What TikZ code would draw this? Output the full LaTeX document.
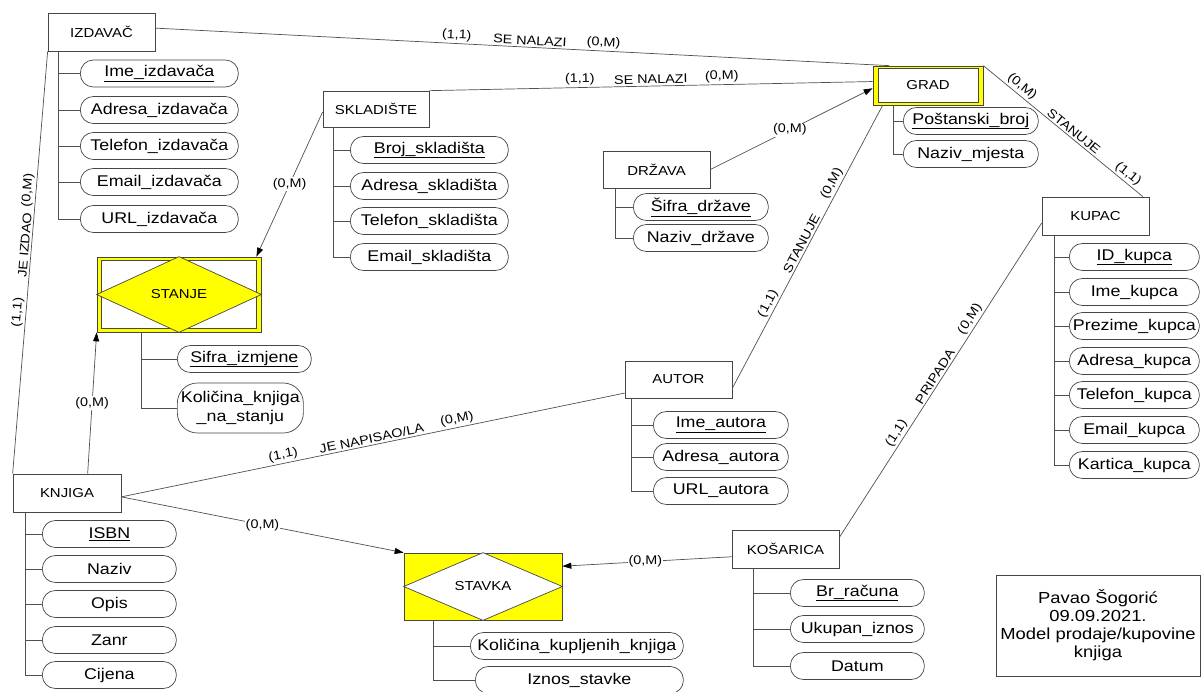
\documentclass[tikz,border=0pt]{standalone}
\usepackage{fontspec}
\setmainfont{Liberation Sans}[FakeStretch=1.15]
\usetikzlibrary{calc,arrows.meta}
\definecolor{ery}{RGB}{255,255,0}
\definecolor{edge}{RGB}{70,70,70}
\definecolor{lin}{RGB}{80,80,80}
\begin{document}
\begin{tikzpicture}[x=1pt,y=-1pt,
  ent/.style={draw=edge,line width=0.7pt,fill=white,inner sep=0pt,font=\fontsize{13}{15}\selectfont},
  attr/.style={draw=edge,line width=0.7pt,fill=white,rounded corners=13pt,minimum height=27pt,inner sep=0pt,anchor=west,font=\fontsize{15.5}{18}\selectfont},
  tree/.style={draw=lin,line width=0.7pt},
  rel/.style={draw=lin,line width=0.7pt},
  arr/.style={rel,-{Triangle[length=9pt,width=6pt,color=black]}},
  card/.style={font=\fontsize{12.5}{14}\selectfont,inner sep=2pt},
  lab/.style={card,sloped,above},
  wcard/.style={card,fill=white,inner sep=1pt},
]
\useasboundingbox (0,0) rectangle (1201,691);
\fill[white] (0,0) rectangle (1201,691);

% IZDAVAC
\node[ent,minimum width=107pt,minimum height=38pt] (izd) at (101.5,32) {IZDAVAČ};
\coordinate (izdT) at (58,51);
\node[attr,minimum width=158pt] (izd1) at (80,73.5) {\underline{Ime\_izdavača}};
\node[attr,minimum width=158pt] (izd2) at (80,110) {Adresa\_izdavača};
\node[attr,minimum width=158pt] (izd3) at (80,146) {Telefon\_izdavača};
\node[attr,minimum width=158pt] (izd4) at (80,182) {Email\_izdavača};
\node[attr,minimum width=158pt] (izd5) at (80,219) {URL\_izdavača};
\draw[tree] (izdT) |- (izd5.west);
\foreach \i in {1,...,4} \draw[tree] (izd\i.west) -- (izd\i.west -| izdT);

% SKLADISTE
\node[ent,minimum width=106pt,minimum height=36pt] (skl) at (376,109) {SKLADIŠTE};
\coordinate (sklT) at (333,127);
\node[attr,minimum width=158pt] (skl1) at (350,150) {\underline{Broj\_skladišta}};
\node[attr,minimum width=158pt] (skl2) at (350,186) {Adresa\_skladišta};
\node[attr,minimum width=158pt] (skl3) at (350,221) {Telefon\_skladišta};
\node[attr,minimum width=158pt] (skl4) at (350,257) {Email\_skladišta};
\draw[tree] (sklT) |- (skl4.west);
\foreach \i in {1,...,3} \draw[tree] (skl\i.west) -- (skl\i.west -| sklT);

% DRZAVA
\node[ent,minimum width=107pt,minimum height=37pt] (drz) at (656.5,169.5) {DRŽAVA};
\coordinate (drzT) at (615,188);
\node[attr,minimum width=135pt] (drz1) at (633,207) {\underline{Šifra\_države}};
\node[attr,minimum width=135pt] (drz2) at (633,238) {Naziv\_države};
\draw[tree] (drzT) |- (drz2.west);
\draw[tree] (drz1.west) -- (drz1.west -| drzT);

% GRAD
\node[ent,fill=ery,minimum width=110pt,minimum height=39pt] (grad) at (928,85.5) {};
\node[ent,minimum width=100pt,minimum height=34pt] (gradin) at (928,85.5) {GRAD};
\coordinate (gradT) at (893,105);
\node[attr,minimum width=135pt] (grad1) at (903,121) {\underline{Poštanski\_broj}};
\node[attr,minimum width=135pt] (grad2) at (903,154) {Naziv\_mjesta};
\draw[tree] (gradT) |- (grad2.west);
\draw[tree] (grad1.west) -- (grad1.west -| gradT);

% KUPAC
\node[ent,minimum width=107pt,minimum height=38pt] (kup) at (1095.5,216) {KUPAC};
\coordinate (kupT) at (1054,235);
\node[attr,minimum width=130pt] (kup1) at (1069,257) {\underline{ID\_kupca}};
\node[attr,minimum width=130pt] (kup2) at (1069,292) {Ime\_kupca};
\node[attr,minimum width=130pt] (kup3) at (1069,326) {Prezime\_kupca};
\node[attr,minimum width=130pt] (kup4) at (1069,361) {Adresa\_kupca};
\node[attr,minimum width=130pt] (kup5) at (1069,395) {Telefon\_kupca};
\node[attr,minimum width=130pt] (kup6) at (1069,430) {Email\_kupca};
\node[attr,minimum width=130pt] (kup7) at (1069,465) {Kartica\_kupca};
\draw[tree] (kupT) |- (kup7.west);
\foreach \i in {1,...,6} \draw[tree] (kup\i.west) -- (kup\i.west -| kupT);

% STANJE
\node[ent,fill=ery,minimum width=164pt,minimum height=75pt] (stanje) at (179,294.5) {};
\draw[draw=edge,line width=0.7pt,fill=white] ($(stanje.south west)+(5,-4)$) rectangle ($(stanje.north east)+(-5,4)$);
\draw[draw=edge,line width=0.7pt,fill=ery] (stanje.west) -- (stanje.north) -- (stanje.east) -- (stanje.south) -- cycle;
\node[font=\fontsize{13}{15}\selectfont] (stanjeL) at (stanje.center) {STANJE};
\coordinate (stanjeT) at (141,332);
\node[attr,minimum width=134pt] (st1) at (177,359) {\underline{Sifra\_izmjene}};
\node[attr,minimum width=126pt,minimum height=50pt,rounded corners=20pt,align=center,font=\fontsize{15.5}{19}\selectfont] (st2) at (177,408) {Količina\_knjiga\\\_na\_stanju};
\draw[tree] (stanjeT) |- (st2.west);
\draw[tree] (st1.west) -- (st1.west -| stanjeT);

% STAVKA
\node[ent,fill=ery,minimum width=158pt,minimum height=67pt] (stavka) at (483,586.5) {};
\draw[draw=edge,line width=0.7pt,fill=white] (stavka.west) -- (stavka.north) -- (stavka.east) -- (stavka.south) -- cycle;
\node[font=\fontsize{13}{15}\selectfont] (stavkaL) at (stavka.center) {STAVKA};
\coordinate (stavkaT) at (433,620);
\node[attr,minimum width=213pt] (sv1) at (470,646) {Količina\_kupljenih\_knjiga};
\node[attr,minimum width=208pt] (sv2) at (475,680) {Iznos\_stavke};
\draw[tree] (stavkaT) |- (sv2.west);
\draw[tree] (sv1.west) -- (sv1.west -| stavkaT);

% KOSARICA
\node[ent,minimum width=107pt,minimum height=38pt] (kos) at (785.5,549) {KOŠARICA};
\coordinate (kosT) at (753,568);
\node[attr,minimum width=134pt] (kos1) at (790,593) {\underline{Br\_računa}};
\node[attr,minimum width=134pt] (kos2) at (790,629) {Ukupan\_iznos};
\node[attr,minimum width=134pt] (kos3) at (790,666) {Datum};
\draw[tree] (kosT) |- (kos3.west);
\foreach \i in {1,2} \draw[tree] (kos\i.west) -- (kos\i.west -| kosT);

% KNJIGA
\node[ent,minimum width=108pt,minimum height=38pt] (knj) at (67,493) {KNJIGA};
\coordinate (knjT) at (25,512);
\node[attr,minimum width=134pt] (knj1) at (42,534) {\underline{ISBN}};
\node[attr,minimum width=134pt] (knj2) at (42,569) {Naziv};
\node[attr,minimum width=134pt] (knj3) at (42,604) {Opis};
\node[attr,minimum width=134pt] (knj4) at (42,640) {Zanr};
\node[attr,minimum width=134pt] (knj5) at (42,675) {Cijena};
\draw[tree] (knjT) |- (knj5.west);
\foreach \i in {1,...,4} \draw[tree] (knj\i.west) -- (knj\i.west -| knjT);

% AUTOR
\node[ent,minimum width=107pt,minimum height=37pt] (aut) at (678.5,379.5) {AUTOR};
\coordinate (autT) at (631,398);
\node[attr,minimum width=135pt] (aut1) at (653,425) {\underline{Ime\_autora}};
\node[attr,minimum width=135pt] (aut2) at (653,457) {Adresa\_autora};
\node[attr,minimum width=135pt] (aut3) at (653,491) {URL\_autora};
\draw[tree] (autT) |- (aut3.west);
\foreach \i in {1,2} \draw[tree] (aut\i.west) -- (aut\i.west -| autT);

% info box
\node[ent,minimum width=204pt,minimum height=101pt,align=center,font=\fontsize{16}{18}\selectfont] (info) at (1098,625.5) {Pavao Šogorić\\09.09.2021.\\Model prodaje/kupovine\\knjiga};

% relationships
\draw[rel] ($(izd.north east)!0.4!(izd.south east)$) -- ($(grad.north west)!0.15!(grad.north east)$)
  node[lab,pos=0.41] {(1,1)} node[lab,pos=0.51] {SE NALAZI} node[lab,pos=0.61] {(0,M)};
\draw[rel] (skl.north east) -- ($(grad.north west)!0.4!(grad.south west)$)
  node[lab,pos=0.34] {(1,1)} node[lab,pos=0.50] {SE NALAZI} node[lab,pos=0.66] {(0,M)};
\draw[arr] ($(drz.north east)!0.5!(drz.south east)$) -- ($(grad.north west)!0.57!(grad.south west)$)
  node[wcard,pos=0.49] {(0,M)};
\draw[rel] ($(aut.north east)!0.73!(aut.south east)$) -- ($(grad.south west)!0.09!(grad.south east)$)
  node[lab,pos=0.286] {(1,1)} node[lab,pos=0.5] {STANUJE} node[lab,pos=0.71] {(0,M)};
\draw[rel] (grad.north east) -- ($(kup.north west)!0.94!(kup.north east)$)
  node[lab,pos=0.21] {(0,M)} node[lab,pos=0.54] {STANUJE} node[lab,pos=0.875] {(1,1)};
\draw[arr] ($(skl.north west)!0.58!(skl.south west)$) -- ($(stanje.north west)!0.97!(stanje.north east)$)
  node[wcard,pos=0.5] {(0,M)};
\draw[rel] (knj.north west) -- (izd.south west)
  node[lab,pos=0.38] {(1,1)} node[lab,pos=0.54] {JE IZDAO} node[lab,pos=0.67] {(0,M)};
\draw[arr] ($(knj.north west)!0.69!(knj.north east)$) -- (stanje.south west)
  node[wcard,pos=0.5] {(0,M)};
\coordinate (knjE) at ($(knj.north east)!0.6!(knj.south east)$);
\draw[rel] (knjE) -- ($(aut.north west)!0.86!(aut.south west)$)
  node[lab,pos=0.325] {(1,1)} node[lab,pos=0.5] {JE NAPISAO/LA} node[lab,pos=0.67] {(0,M)};
\draw[arr] (knjE) -- (stavka.north west) node[wcard,pos=0.5] {(0,M)};
\draw[arr] ($(kos.north west)!0.7!(kos.south west)$) -- ($(stavka.north east)!0.2!(stavka.south east)$)
  node[wcard,pos=0.51] {(0,M)};
\draw[rel] ($(kos.north east)!0.2!(kos.south east)$) -- ($(kup.north west)!0.68!(kup.south west)$)
  node[lab,pos=0.317] {(1,1)} node[lab,pos=0.5] {PRIPADA} node[lab,pos=0.68] {(0,M)};
\end{tikzpicture}
\end{document}
